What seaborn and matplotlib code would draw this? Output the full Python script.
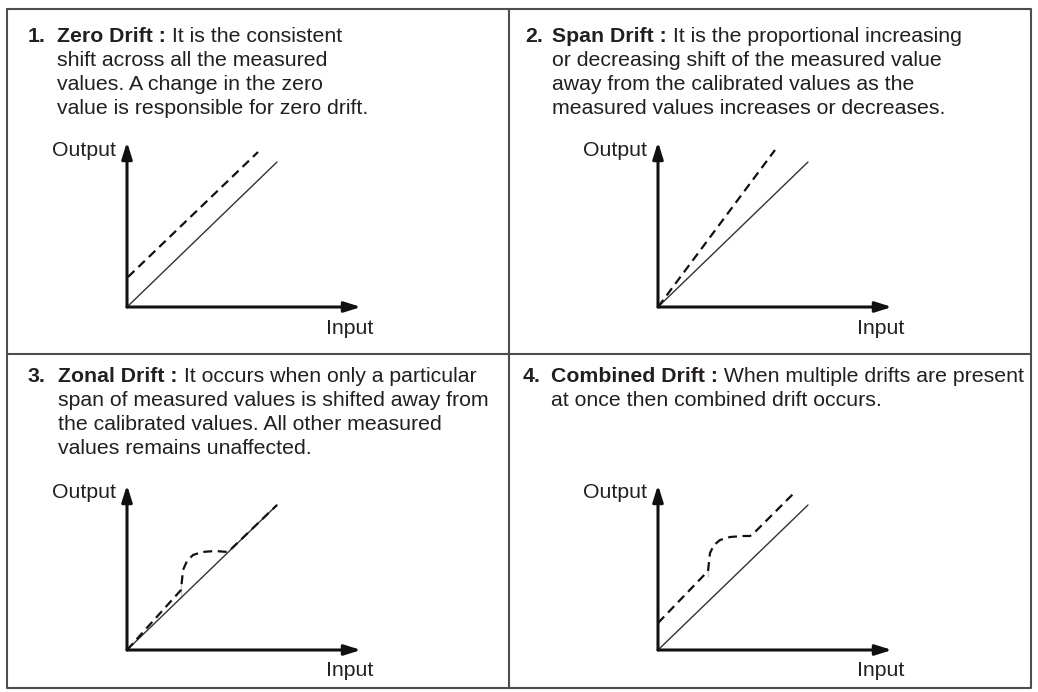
import matplotlib
matplotlib.use("Agg")
import matplotlib.pyplot as plt
import seaborn as sns

sns.set_theme(style="white")
plt.rcParams["font.family"] = ["Liberation Sans", "DejaVu Sans"]

W, H = 1038, 692
ink = "#231f20"
fs = 15.3

# text of the four boxes
numbers = ["1.", "2.", "3.", "4."]
titles = ["Zero Drift :", "Span Drift :", "Zonal Drift :", "Combined Drift :"]
first_rest = [" It is the consistent",
              " It is the proportional increasing",
              " It occurs when only a particular",
              " When multiple drifts are present"]
more_lines = [
    ["shift across all the measured", "values. A change in the zero",
     "value is responsible for zero drift."],
    ["or decreasing shift of the measured value", "away from the calibrated values as the",
     "measured values increases or decreases."],
    ["span of measured values is shifted away from", "the calibrated values. All other measured",
     "values remains unaffected."],
    ["at once then combined drift occurs."],
]

# curves, offsets from the diagram origin (px)
ideal_x = [0, 150]
ideal_y = [0, 145]
zero_x = [1, 131]
zero_y = [30, 155]
span_x = [0, 117]
span_y = [0, 157]
zonal_x = [0, 54, 54, 56, 60, 66, 75, 88, 101, 150]
zonal_y = [0, 52, 68, 80, 89, 95, 98, 99, 98, 145]
comb_x = [0, 50, 50, 52, 56, 62, 72, 85, 92, 96, 137]
comb_y = [27, 73, 85, 97, 105, 110, 113, 114, 114, 117, 158]
drift_curves = [(zero_x, zero_y), (span_x, span_y), (zonal_x, zonal_y), (comb_x, comb_y)]

origins = [(127, 307), (658, 307), (127, 650), (658, 650)]
num_x = [28, 525, 28, 523]
txt_x = [57, 552, 58, 551]
top_y = [37, 37, 376, 376]
step = 24

fig = plt.figure(figsize=(W / 100, H / 100), dpi=100)
fig.patch.set_facecolor("white")

bg = fig.add_axes([0, 0, 1, 1])
bg.set_xlim(0, W)
bg.set_ylim(H, 0)
bg.axis("off")
box = "#4d4d4d"
bg.plot([7, 1031, 1031, 7, 7], [9, 9, 688, 688, 9], color=box, lw=1.5)
bg.plot([509, 509], [9, 688], color=box, lw=1.5)
bg.plot([7, 1031], [354, 354], color=box, lw=1.5)

renderer = fig.canvas.get_renderer()
for i in range(4):
    y0 = top_y[i]
    bg.text(num_x[i], y0, numbers[i], fontsize=fs, fontweight="bold", color=ink, va="center")
    t = bg.text(txt_x[i], y0, titles[i], fontsize=fs, fontweight="bold", color=ink, va="center")
    bb = t.get_window_extent(renderer)
    x_end = bg.transData.inverted().transform((bb.x1, 0))[0]
    bg.text(x_end, y0, first_rest[i], fontsize=fs, color=ink, va="center")
    for k, line in enumerate(more_lines[i]):
        bg.text(txt_x[i], y0 + step * (k + 1), line, fontsize=fs, color=ink, va="center")

for i, (ox, oy) in enumerate(origins):
    ax = fig.add_axes([(ox - 130) / W, (H - (oy + 40)) / H, 400 / W, 220 / H])
    ax.set_xlim(-130, 270)
    ax.set_ylim(-40, 180)
    ax.axis("off")
    ax.patch.set_alpha(0)
    sns.lineplot(x=ideal_x, y=ideal_y, ax=ax, color="#333333", lw=1.0, sort=False)
    dx, dy = drift_curves[i]
    sns.lineplot(x=dx, y=dy, ax=ax, color="#111111", lw=1.6, sort=False,
                 linestyle=(0, (4, 2.5)))
    arrow = dict(arrowstyle="-|>,head_length=0.7,head_width=0.22", lw=2.2, color="#111111",
                 shrinkA=0, shrinkB=0, mutation_scale=14)
    ax.annotate("", xy=(0, 165), xytext=(0, 0), arrowprops=arrow)
    ax.annotate("", xy=(234, 0), xytext=(0, 0), arrowprops=arrow)
    ax.text(-11, 157, "Output", fontsize=fs, color=ink, ha="right", va="center")
    ax.text(223, -21, "Input", fontsize=fs, color=ink, ha="center", va="center")

fig.savefig("out.png", dpi=100)
